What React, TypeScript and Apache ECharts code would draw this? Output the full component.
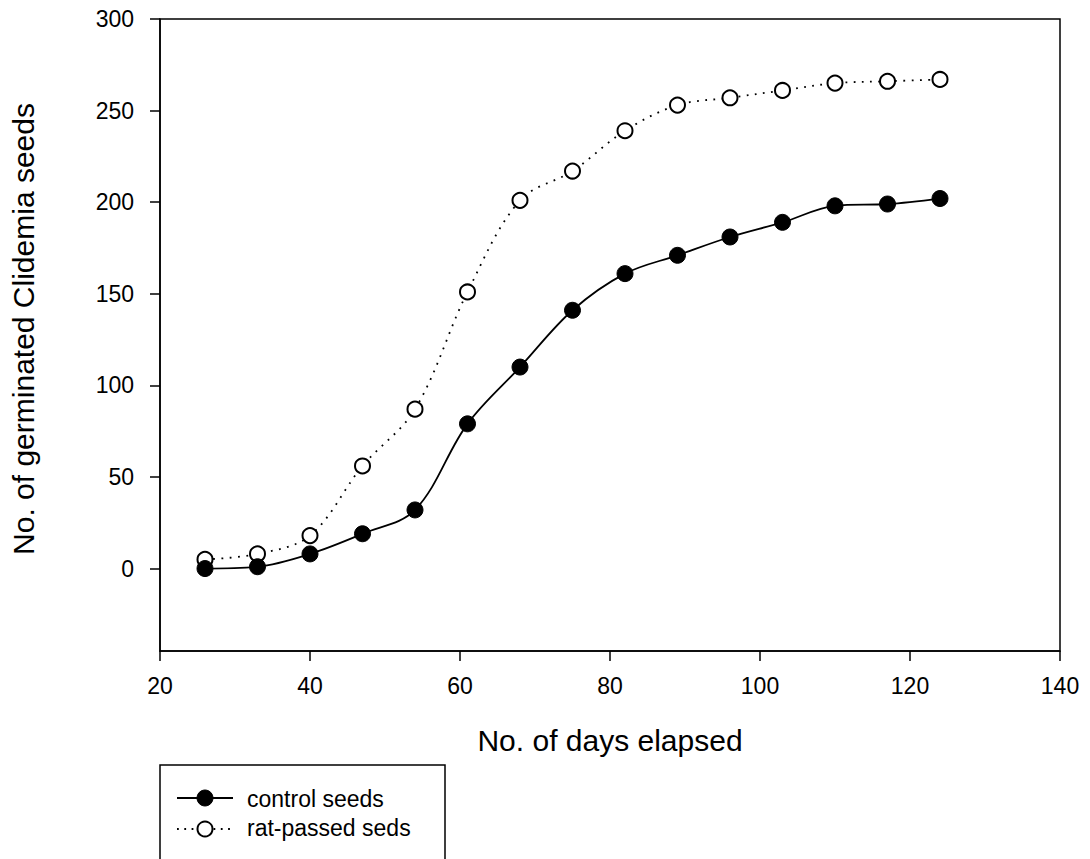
import React, { useEffect, useRef } from "react";
import * as echarts from "echarts";

const days = [26, 33, 40, 47, 54, 61, 68, 75, 82, 89, 96, 103, 110, 117, 124];
const controlSeeds = [0, 1, 8, 19, 32, 79, 110, 141, 161, 171, 181, 189, 198, 199, 202];
const ratPassedSeeds = [5, 8, 18, 56, 87, 151, 201, 217, 239, 253, 257, 261, 265, 266, 267];
const yTickValues = [0, 50, 100, 150, 200, 250, 300];
const seriesNames = ["control seeds", "rat-passed seds"];
const xAxisTitle = "No. of days elapsed";
const yAxisTitle = "No. of germinated Clidemia seeds";

const FONT = "'Liberation Sans', Arial, Helvetica, sans-serif";

export default function App() {
  const ref = useRef<HTMLDivElement>(null);
  useEffect(() => {
    document.body.style.margin = "0";
    if (!ref.current) return;
    const chart = echarts.init(ref.current, undefined, { renderer: "svg" });
    const ctrl = days.map((d, i) => [d, controlSeeds[i]]);
    const rat = days.map((d, i) => [d, ratPassedSeeds[i]]);
    const legendX = 160;
    const legendY = 765;
    chart.setOption({
      animation: false,
      backgroundColor: "#fff",
      textStyle: { fontFamily: FONT },
      grid: {
        left: 160,
        top: 19,
        right: 30,
        bottom: 208,
        show: true,
        borderColor: "#000",
        borderWidth: 1.5,
        backgroundColor: "transparent",
      },
      xAxis: {
        type: "value",
        min: 20,
        max: 140,
        interval: 20,
        name: xAxisTitle,
        nameLocation: "middle",
        nameGap: 74,
        nameTextStyle: { fontSize: 30, color: "#000", fontFamily: FONT },
        axisLine: { onZero: false, lineStyle: { color: "#000", width: 1.5 } },
        axisTick: { show: true, inside: false, length: 10, lineStyle: { color: "#000", width: 1.5 } },
        axisLabel: { color: "#000", fontSize: 23, margin: 23, fontFamily: FONT },
        splitLine: { show: false },
      },
      yAxis: {
        type: "value",
        min: -45,
        max: 300,
        name: yAxisTitle,
        nameLocation: "middle",
        nameGap: 122,
        nameTextStyle: { fontSize: 30, color: "#000", fontFamily: FONT, padding: [0, 0, 0, 12] },
        axisLine: { show: true, onZero: false, lineStyle: { color: "#000", width: 1.5 } },
        axisTick: {
          show: true,
          inside: false,
          length: 10,
          customValues: yTickValues,
          lineStyle: { color: "#000", width: 1.5 },
        },
        axisLabel: {
          color: "#000",
          fontSize: 23,
          margin: 26,
          fontFamily: FONT,
          customValues: yTickValues,
        },
        splitLine: { show: false },
      },
      series: [
        {
          name: seriesNames[0],
          type: "line",
          data: ctrl,
          smooth: 0.35,
          symbol: "circle",
          symbolSize: 16,
          itemStyle: { color: "#000", borderColor: "#000", borderWidth: 1 },
          lineStyle: { color: "#000", width: 1.8 },
          z: 3,
        },
        {
          name: seriesNames[1],
          type: "line",
          data: rat,
          smooth: 0.35,
          symbol: "circle",
          symbolSize: 15,
          itemStyle: { color: "#fff", borderColor: "#000", borderWidth: 2 },
          lineStyle: { color: "#000", width: 1.8, type: [1.8, 6.5], cap: "butt" },
          z: 2,
        },
      ],
      graphic: [
        {
          type: "rect",
          shape: { x: legendX, y: legendY, width: 285, height: 120 },
          style: { fill: "#fff", stroke: "#000", lineWidth: 1.5 },
        },
        {
          type: "line",
          shape: { x1: 177, y1: 798, x2: 233, y2: 798 },
          style: { stroke: "#000", lineWidth: 1.8 },
        },
        {
          type: "circle",
          shape: { cx: 205, cy: 798, r: 8 },
          style: { fill: "#000", stroke: "#000", lineWidth: 1 },
        },
        {
          type: "text",
          x: 247,
          y: 799,
          style: { text: seriesNames[0], fontSize: 23, fill: "#000", fontFamily: FONT, verticalAlign: "middle" },
        },
        {
          type: "line",
          shape: { x1: 177, y1: 829, x2: 233, y2: 829 },
          style: { stroke: "#000", lineWidth: 1.8, lineDash: [1.8, 5.5] },
        },
        {
          type: "circle",
          shape: { cx: 205, cy: 829, r: 7.5 },
          style: { fill: "#fff", stroke: "#000", lineWidth: 2 },
        },
        {
          type: "text",
          x: 247,
          y: 828,
          style: { text: seriesNames[1], fontSize: 23, fill: "#000", fontFamily: FONT, verticalAlign: "middle" },
        },
      ],
    });
    return () => chart.dispose();
  }, []);
  return <div ref={ref} style={{ width: 1090, height: 859 }} />;
}
